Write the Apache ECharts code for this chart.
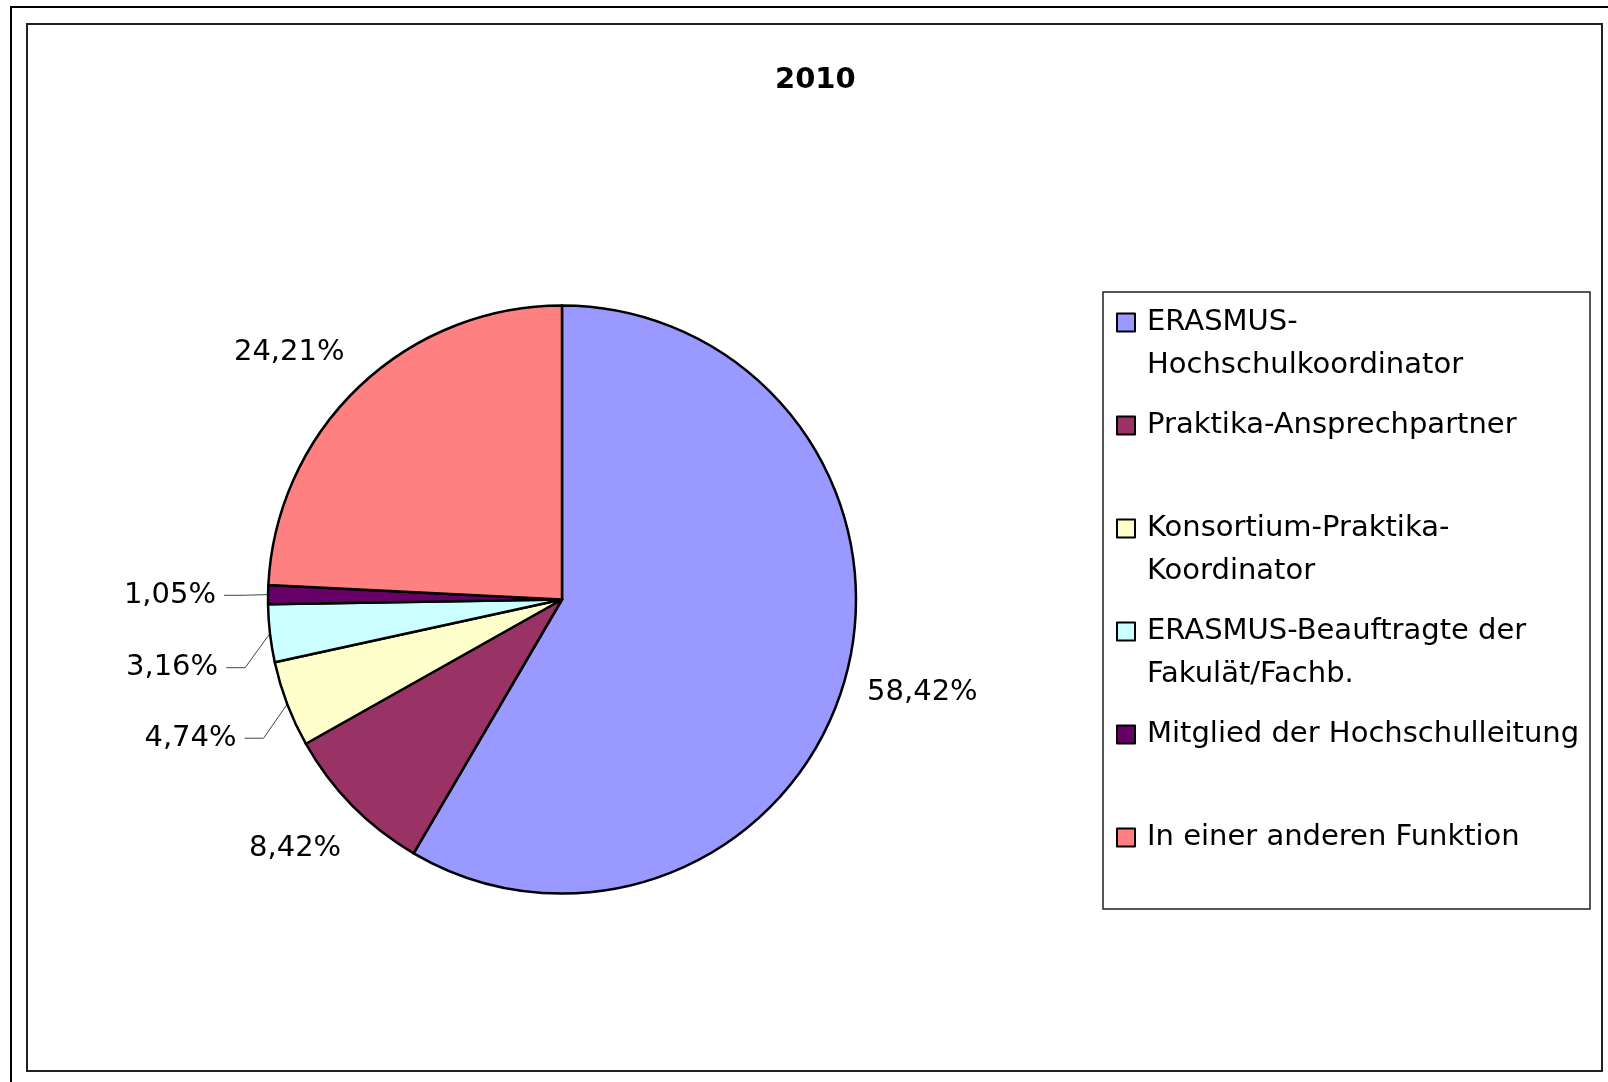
<!DOCTYPE html>
<html>
<head>
<meta charset="utf-8">
<script src="https://cdn.jsdelivr.net/npm/echarts@6/dist/echarts.min.js"></script>
<style>
  html, body { margin: 0; padding: 0; background: #fff; }
  #chart { width: 1608px; height: 1082px; }
</style>
</head>
<body>
<div id="chart"></div>
<script>
const title = '2010';
const categories = [
  'ERASMUS-Hochschulkoordinator',
  'Praktika-Ansprechpartner',
  'Konsortium-Praktika-Koordinator',
  'ERASMUS-Beauftragte der Fakulät/Fachb.',
  'Mitglied der Hochschulleitung',
  'In einer anderen Funktion'
];
// how the legend wraps each name
const legendText = [
  'ERASMUS-\nHochschulkoordinator',
  'Praktika-Ansprechpartner\n ',
  'Konsortium-Praktika-\nKoordinator',
  'ERASMUS-Beauftragte der\nFakulät/Fachb.',
  'Mitglied der Hochschulleitung\n ',
  'In einer anderen Funktion\n '
];
const shares = [58.42, 8.42, 4.74, 3.16, 1.05, 24.21];
const colors = ['#9999FF', '#993366', '#FFFFCC', '#CCFFFF', '#660066', '#FF8080'];
const withLeader = [false, false, true, true, true, false];

// label nudges (px) from the default outside position
const nudgeX = [-30, 35, 0, 0, 0, 31];
const nudgeY = [11, 29, 27, 32, 1, -20];

const FONT = 'DejaVu Sans';

const chart = echarts.init(document.getElementById('chart'), null, { renderer: 'canvas' });

const option = {
  animation: false,
  backgroundColor: '#fff',
  title: {
    text: title,
    left: 775,
    top: 66,
    padding: 0,
    textStyle: { fontFamily: FONT, fontSize: 29, fontWeight: 'bold', color: '#000' }
  },
  legend: {
    orient: 'vertical',
    left: 1115,
    top: 300,
    padding: 0,
    itemGap: 15,
    itemWidth: 26,
    itemHeight: 86,
    selectedMode: false,
    icon: 'path://M0,0M26,86M1,12.5L19,12.5L19,30.5L1,30.5Z',
    itemStyle: { borderColor: '#000', borderWidth: 2 },
    textStyle: { fontFamily: FONT, fontSize: 29, lineHeight: 43, color: '#000' },
    formatter: function (name) {
      return legendText[categories.indexOf(name)];
    },
    data: categories
  },
  graphic: [
    { type: 'rect', silent: true, shape: { x: 11, y: 7, width: 1700, height: 1200 },
      style: { fill: 'none', stroke: '#000', lineWidth: 2 } },
    { type: 'rect', silent: true, shape: { x: 27, y: 24, width: 1575, height: 1047 },
      style: { fill: 'none', stroke: '#222', lineWidth: 2 } },
    { type: 'rect', silent: true, shape: { x: 1103, y: 292, width: 487, height: 617 },
      style: { fill: 'none', stroke: '#222', lineWidth: 1.5 } }
  ],
  series: [
    {
      type: 'pie',
      center: [562, 599.5],
      radius: 294,
      startAngle: 90,
      clockwise: true,
      avoidLabelOverlap: false,
      emphasis: { disabled: true },
      itemStyle: { borderColor: '#000', borderWidth: 2.5 },
      label: {
        show: true,
        position: 'outside',
        fontFamily: FONT,
        fontSize: 29,
        color: '#000',
        padding: [0, 8, 0, 8],
        backgroundColor: 'rgba(0,0,0,0)',
        distanceToLabelLine: 5,
        formatter: function (p) {
          return p.value.toFixed(2).replace('.', ',') + '%';
        }
      },
      labelLine: {
        show: true,
        length: 20,
        length2: 19,
        lineStyle: { color: '#444', width: 1 }
      },
      labelLayout: function (p) {
        const i = p.dataIndex;
        const r = p.labelRect;
        const x = p.align === 'right' ? r.x + r.width : r.x;
        return {
          x: x + nudgeX[i],
          y: r.y + r.height / 2 + nudgeY[i],
          align: p.align,
          verticalAlign: 'middle'
        };
      },
      data: categories.map(function (name, i) {
        return {
          name: name,
          value: shares[i],
          itemStyle: { color: colors[i] },
          labelLine: { show: withLeader[i] }
        };
      })
    }
  ]
};

chart.setOption(option);
window.addEventListener('resize', function () { chart.resize(); });
</script>
</body>
</html>
